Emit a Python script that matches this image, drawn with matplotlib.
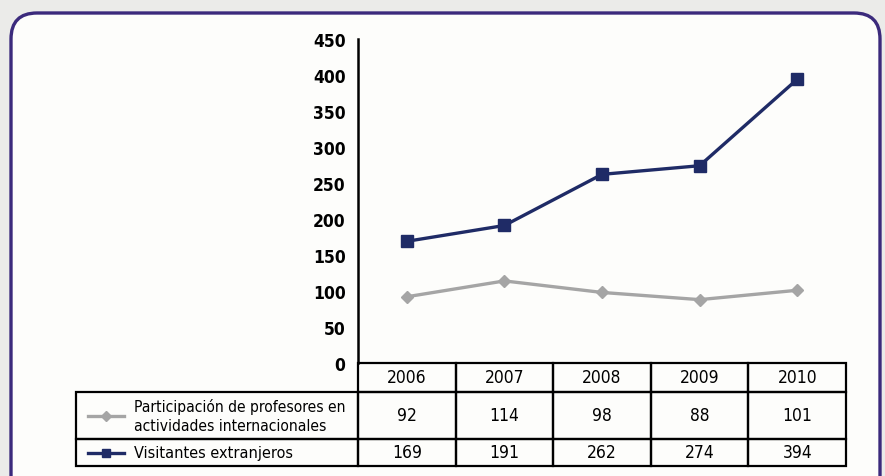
import matplotlib.pyplot as plt
from matplotlib.patches import FancyBboxPatch, Rectangle
from matplotlib.lines import Line2D

years = ['2006', '2007', '2008', '2009', '2010']
profesores = [92, 114, 98, 88, 101]
visitantes = [169, 191, 262, 274, 394]
label_prof = 'Participación de profesores en\nactividades internacionales'
label_vis = 'Visitantes extranjeros'
yticks = [0, 50, 100, 150, 200, 250, 300, 350, 400, 450]

gray = '#a5a5a5'
navy = '#1f2b66'
frame_col = '#3b2a7c'

plt.rcParams['font.family'] = ['DejaVu Sans']
plt.rcParams['font.stretch'] = 'condensed'

W, H = 885, 477
fig = plt.figure(figsize=(W / 100, H / 100), dpi=100)
fig.patch.set_facecolor('#ebebe9')

# background axes in pixel units: frame + table
bg = fig.add_axes([0, 0, 1, 1])
bg.set_xlim(0, W)
bg.set_ylim(H, 0)
bg.axis('off')

box = FancyBboxPatch((11, 14), 869, 500, boxstyle='round,pad=0,rounding_size=26',
                     facecolor='#fdfdfb', edgecolor=frame_col, linewidth=2.4)
bg.add_patch(box)

x0, x1 = 358, 846
lab_x = 76
cw = (x1 - x0) / len(years)
r0, r1, r2, r3 = 364, 393, 440, 467
lw = 1.6

def cell(x, y, w, h):
    bg.add_patch(Rectangle((x, y), w, h, fill=False, edgecolor='black', linewidth=lw))

for i, yr in enumerate(years):
    cx = x0 + i * cw
    cell(cx, r0, cw, r1 - r0)
    cell(cx, r1, cw, r2 - r1)
    cell(cx, r2, cw, r3 - r2)
    bg.text(cx + cw / 2, (r0 + r1) / 2, yr, ha='center', va='center', fontsize=12.5)
    bg.text(cx + cw / 2, (r1 + r2) / 2, str(profesores[i]), ha='center', va='center', fontsize=12.5)
    bg.text(cx + cw / 2, (r2 + r3) / 2, str(visitantes[i]), ha='center', va='center', fontsize=12.5)

cell(lab_x, r1, x0 - lab_x, r2 - r1)
cell(lab_x, r2, x0 - lab_x, r3 - r2)

# legend keys inside the label cells
for ym, col, mk, ms in [((r1 + r2) / 2, gray, 'D', 5), ((r2 + r3) / 2, navy, 's', 6)]:
    bg.add_line(Line2D([88, 124], [ym, ym], color=col, linewidth=2.4))
    bg.plot([106], [ym], marker=mk, color=col, markersize=ms)
bg.text(134, (r1 + r2) / 2, label_prof, ha='left', va='center', fontsize=11.2, linespacing=1.3)
bg.text(134, (r2 + r3) / 2, label_vis, ha='left', va='center', fontsize=11.6)

# line chart
ax = fig.add_axes([x0 / W, 1 - r0 / H, (x1 - x0) / W, (r0 - 40) / H])
ax.patch.set_alpha(0)
xs = range(len(years))
ax.plot(xs, profesores, color=gray, linewidth=2.4, marker='D', markersize=6)
ax.plot(xs, visitantes, color=navy, linewidth=2.4, marker='s', markersize=8.5)
ax.set_xlim(-0.5, len(years) - 0.5)
ax.set_ylim(0, 450)
ax.set_yticks(yticks)
ax.set_yticklabels([str(t) for t in yticks], fontsize=12.5, fontweight='bold')
ax.tick_params(axis='y', length=0, pad=9)
ax.set_xticks([])
for s in ['top', 'right', 'bottom']:
    ax.spines[s].set_visible(False)
ax.spines['left'].set_linewidth(1.8)

fig.savefig('out.png', dpi=100, facecolor=fig.get_facecolor())
